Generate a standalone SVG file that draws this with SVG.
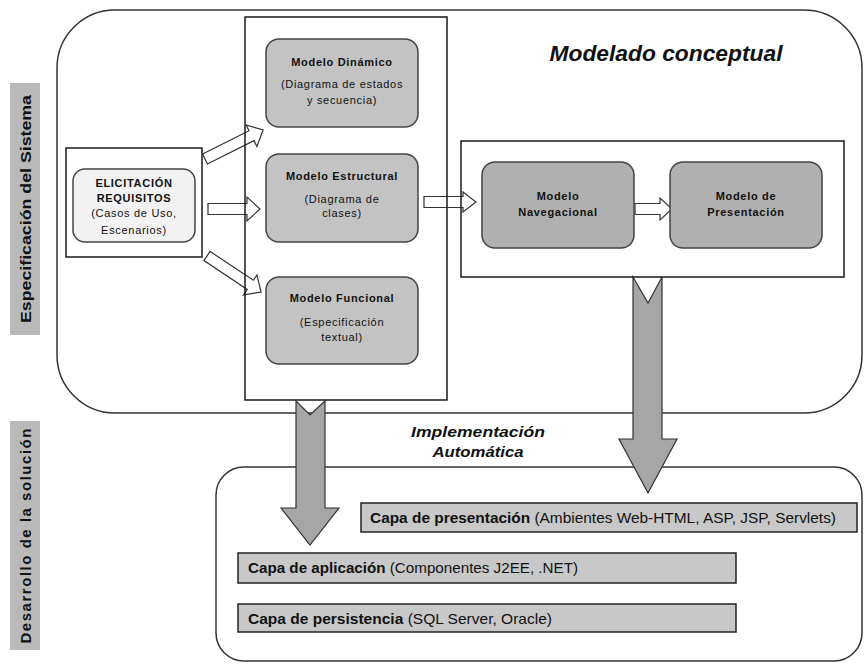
<svg xmlns="http://www.w3.org/2000/svg" width="864" height="664" viewBox="0 0 864 664">
<style>
.frame{fill:#fff;stroke:#333;stroke-width:1.5}
.box{fill:none;stroke:#1a1a1a;stroke-width:1.5}
.model{fill:#c3c3c3;stroke:#444;stroke-width:1.5}
.model2{fill:#b0b0b0;stroke:#444;stroke-width:1.5}
.req{fill:#f2f2f2;stroke:#444;stroke-width:1.5}
.capa{fill:#c8c8c8;stroke:#222;stroke-width:1.5}
.side{fill:#b9b9b9}
.wa{fill:#fff;stroke:#333;stroke-width:1.2}
.ga{fill:#a6a6a6;stroke:#333;stroke-width:1.2}
text{font-family:"Liberation Sans",Arial,sans-serif;fill:#111}
.t{font-size:11px;letter-spacing:0.7px;text-anchor:middle}
.b{font-weight:bold}
.side-t{font-size:15px;font-weight:bold;text-anchor:middle;fill:#111}
.title{font-size:22px;font-weight:bold;font-style:italic;text-anchor:middle}
.impl{font-size:15px;font-weight:bold;font-style:italic;text-anchor:middle}
.ct{font-size:15px}
</style>

<g id="frames">
  <rect id="modelado-frame" class="frame" x="57" y="10" width="805" height="403" rx="58" ry="58"/>
  <rect id="desarrollo-frame" class="frame" x="216" y="467" width="646" height="194" rx="28" ry="28"/>
</g>

<g id="side-labels">
  <g id="label-especificacion">
    <rect class="side" x="10" y="83" width="30" height="252"/>
    <text class="side-t" transform="translate(31,209) rotate(-90)" textLength="228" lengthAdjust="spacingAndGlyphs">Especificación del Sistema</text>
  </g>
  <g id="label-desarrollo">
    <rect class="side" x="10" y="421" width="30" height="229"/>
    <text class="side-t" transform="translate(31,536) rotate(-90)" textLength="215" lengthAdjust="spacing">Desarrollo de la solución</text>
  </g>
</g>

<g id="titles">
  <text class="title" x="666" y="61" textLength="233" lengthAdjust="spacingAndGlyphs">Modelado conceptual</text>
  <text class="impl" x="478" y="437" textLength="134" lengthAdjust="spacingAndGlyphs">Implementación</text>
  <text class="impl" x="478" y="457" textLength="91" lengthAdjust="spacingAndGlyphs">Automática</text>
</g>

<g id="connectors">
  <path class="wa" d="M0,-5.5 H52 V-12 L65,0 L52,12 V5.5 H0 Z" transform="translate(205,159) rotate(-26.6)"/>
  <path class="wa" d="M0,-5.5 H39 V-12 L52,0 L39,12 V5.5 H0 Z" transform="translate(208,209)"/>
  <path class="wa" d="M0,-5.5 H52 V-12 L65,0 L52,12 V5.5 H0 Z" transform="translate(207,256) rotate(33.7)"/>
  <path class="wa" d="M0,-5.5 H39 V-10 L52,0 L39,10 V5.5 H0 Z" transform="translate(424,202)"/>
  <path class="wa" d="M0,-5.5 H25 V-11 L37,0 L25,11 V5.5 H0 Z" transform="translate(635,209)"/>
  <polygon class="ga" points="296,401 310,415 325,401 325,508 339,508 310,545 281,508 296,508"/>
  <polygon class="ga" points="633,277 648,303 662,277 662,439 677,439 648,493 619,439 633,439"/>
</g>

<g id="modelos-column">
  <rect class="box" x="245" y="17" width="202" height="383"/>
</g>

<g id="elicitacion">
  <rect class="box" x="66" y="148" width="136" height="109"/>
  <rect class="req" x="73" y="169" width="122" height="73" rx="12" ry="12"/>
  <text class="t b" x="134" y="187">ELICITACIÓN</text>
  <text class="t b" x="134" y="202">REQUISITOS</text>
  <text class="t" x="134" y="217">(Casos de Uso,</text>
  <text class="t" x="134" y="234">Escenarios)</text>
</g>

<g id="modelo-dinamico">
  <rect class="model" x="266" y="39" width="152" height="88" rx="13" ry="13"/>
  <text class="t b" x="342" y="66">Modelo Dinámico</text>
  <text class="t" x="342" y="88">(Diagrama de estados</text>
  <text class="t" x="342" y="104">y secuencia)</text>
</g>

<g id="modelo-estructural">
  <rect class="model" x="266" y="154" width="152" height="88" rx="13" ry="13"/>
  <text class="t b" x="342" y="180">Modelo Estructural</text>
  <text class="t" x="342" y="203">(Diagrama de</text>
  <text class="t" x="342" y="217">clases)</text>
</g>

<g id="modelo-funcional">
  <rect class="model" x="266" y="277" width="152" height="87" rx="13" ry="13"/>
  <text class="t b" x="342" y="302">Modelo Funcional</text>
  <text class="t" x="342" y="326">(Especificación</text>
  <text class="t" x="342" y="341">textual)</text>
</g>

<g id="navegacion-container">
  <rect class="box" x="461" y="141" width="383" height="136"/>
</g>

<g id="modelo-navegacional">
  <rect class="model2" x="482" y="162" width="152" height="86" rx="13" ry="13"/>
  <text class="t b" x="558" y="200">Modelo</text>
  <text class="t b" x="558" y="216">Navegacional</text>
</g>

<g id="modelo-presentacion">
  <rect class="model2" x="670" y="162" width="152" height="86" rx="13" ry="13"/>
  <text class="t b" x="746" y="200">Modelo de</text>
  <text class="t b" x="746" y="216">Presentación</text>
</g>

<g id="capa-presentacion">
  <rect class="capa" x="361" y="503" width="496" height="29"/>
  <text class="ct" x="370" y="523" textLength="466" lengthAdjust="spacingAndGlyphs"><tspan font-weight="bold">Capa de presentación</tspan> (Ambientes Web-HTML, ASP, JSP, Servlets)</text>
</g>

<g id="capa-aplicacion">
  <rect class="capa" x="238" y="553" width="498" height="30"/>
  <text class="ct" x="248" y="573" textLength="330" lengthAdjust="spacingAndGlyphs"><tspan font-weight="bold">Capa de aplicación</tspan> (Componentes J2EE, .NET)</text>
</g>

<g id="capa-persistencia">
  <rect class="capa" x="238" y="604" width="498" height="28"/>
  <text class="ct" x="248" y="624" textLength="304" lengthAdjust="spacingAndGlyphs"><tspan font-weight="bold">Capa de persistencia</tspan> (SQL Server, Oracle)</text>
</g>
</svg>
